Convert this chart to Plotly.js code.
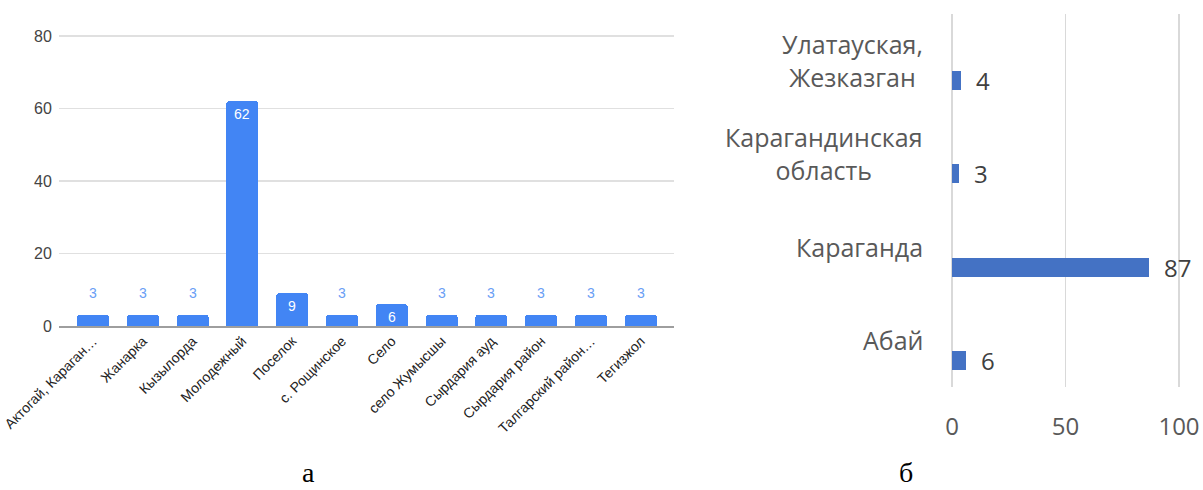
<!DOCTYPE html>
<html>
<head>
<meta charset="utf-8">
<script src="https://cdn.plot.ly/plotly-3.0.1.min.js"></script>
<style>html,body{margin:0;padding:0;background:#fff}#chart{width:1203px;height:490px}</style>
</head>
<body>
<div id="chart"></div>
<script>
// Chart "а": settlements
const leftCategories = ["Актогай, Караган…", "Жанарка", "Кызылорда", "Молодежный", "Поселок", "с. Рощинское", "Село", "село Жумысшы", "Сырдария ауд", "Сырдария район", "Талгарский район…", "Тегизжол"];
const leftValues = [3, 3, 3, 62, 9, 3, 6, 3, 3, 3, 3, 3];
const leftTicks = [0, 20, 40, 60, 80];

// Chart "б": regions
const rightCategories = ["Абай", "Караганда", "Карагандинская область", "Улатауская, Жезказган"];
const rightLabels = ["Абай", "Караганда", "Карагандинская<br>область", "Улатауская,<br>Жезказган"];
const rightValues = [6, 87, 3, 4];
const rightTicks = [0, 50, 100];

const panelLabels = ["а", "б"];

const W = 1203, H = 490;

const traces = [
  {
    type: "bar", x: leftCategories, y: leftValues, xaxis: "x", yaxis: "y",
    marker: {color: "#4285f4", cornerradius: 2}, width: 0.64, hoverinfo: "x+y"
  },
  {
    type: "bar", orientation: "h", x: rightValues, y: rightCategories, xaxis: "x2", yaxis: "y2",
    marker: {color: "#4472c4"}, width: 0.204, offset: -0.3165, hoverinfo: "x+y"
  }
];

const annotations = [];
leftCategories.forEach((c, i) => {
  const v = leftValues[i];
  const inside = v > 5;
  annotations.push({
    xref: "x", yref: "y", x: c, y: v, text: String(v), showarrow: false,
    yanchor: inside ? "top" : "bottom", yshift: inside ? -3 : 12,
    font: {family: "Liberation Sans, Arial", size: 14, color: inside ? "#ffffff" : "#6a9ef5"}
  });
});
rightCategories.forEach((c, i) => {
  annotations.push({
    xref: "x2", yref: "y2", x: rightValues[i], y: c, yshift: -20, text: String(rightValues[i]),
    showarrow: false, xanchor: "left", xshift: 13,
    font: {family: "Open Sans", size: 24, color: "#404040"}
  });
  annotations.push({
    xref: "paper", yref: "y2", x: 925 / W, y: c, text: rightLabels[i],
    showarrow: false, xanchor: "right", align: "center",
    font: {family: "Open Sans", size: 25, color: "#595959"}
  });
});
annotations.push({xref: "paper", yref: "paper", x: 300 / W, y: 0, yanchor: "bottom", text: panelLabels[0], showarrow: false,
  font: {family: "Liberation Serif, Times New Roman", size: 28, color: "#000"}});
annotations.push({xref: "paper", yref: "paper", x: 915 / W, y: 0, yanchor: "bottom", text: panelLabels[1], showarrow: false,
  font: {family: "Liberation Serif, Times New Roman", size: 28, color: "#000"}});

const layout = {
  width: W, height: H, margin: {l: 0, r: 0, t: 0, b: 0},
  paper_bgcolor: "#fff", plot_bgcolor: "#fff", showlegend: false, bargap: 0,
  xaxis: {
    domain: [59 / W, 674 / W], type: "category", range: [-0.683, 11.667],
    tickangle: -45, tickfont: {family: "Liberation Sans, Arial", size: 14, color: "#222"},
    showgrid: false, zeroline: false, showline: true, linecolor: "#9e9e9e", linewidth: 1.5,
    ticks: "", fixedrange: true
  },
  yaxis: {
    domain: [1 - 326 / H, 1 - 35 / H], range: [0, 80.3], tickmode: "array", tickvals: leftTicks,
    tickfont: {family: "Liberation Sans, Arial", size: 16, color: "#444"},
    showgrid: true, gridcolor: "#e0e0e0", gridwidth: 1.3, zeroline: false,
    ticks: "outside", ticklen: 3, tickcolor: "rgba(0,0,0,0)", showline: false
  },
  xaxis2: {
    domain: [950 / W, 1181 / W], range: [-0.88, 100.88], tickmode: "array", tickvals: rightTicks,
    tickfont: {family: "Open Sans", size: 24, color: "#595959"},
    showgrid: true, gridcolor: "#d9d9d9", gridwidth: 1.3, zeroline: false,
    ticks: "outside", ticklen: 18, tickcolor: "rgba(0,0,0,0)", anchor: "y2"
  },
  yaxis2: {
    domain: [1 - 387 / H, 1 - 14 / H], type: "category", range: [-0.5, 3.5],
    showticklabels: false, showgrid: false, zeroline: false, anchor: "x2"
  },
  annotations: annotations
};

Plotly.newPlot("chart", traces, layout, {displayModeBar: false, staticPlot: true});
</script>
</body>
</html>
